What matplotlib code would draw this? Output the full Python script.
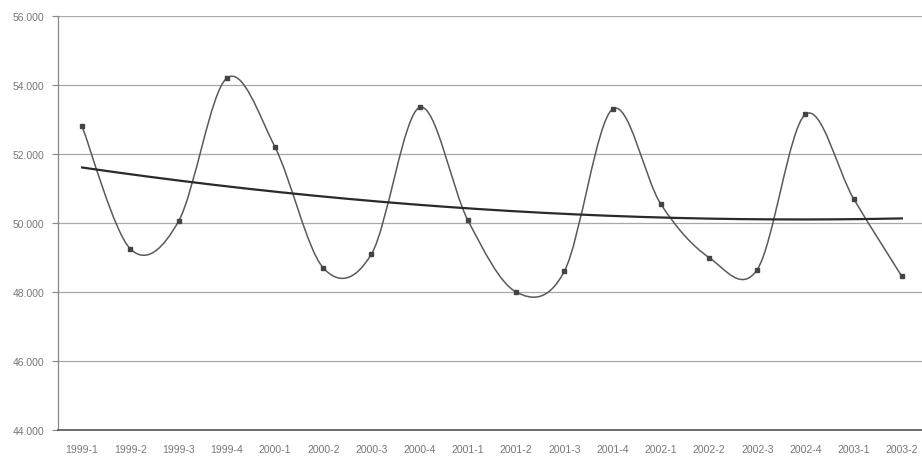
import numpy as np
import matplotlib
matplotlib.use("Agg")
import matplotlib.pyplot as plt
from matplotlib.path import Path
from matplotlib.patches import PathPatch
from matplotlib.ticker import FuncFormatter

categories = ["1999-1", "1999-2", "1999-3", "1999-4", "2000-1", "2000-2", "2000-3", "2000-4",
              "2001-1", "2001-2", "2001-3", "2001-4", "2002-1", "2002-2", "2002-3", "2002-4",
              "2003-1", "2003-2"]
values = [52800, 49250, 50050, 54200, 52200, 48700, 49100, 53350,
          50080, 48000, 48600, 53300, 50550, 49000, 48650, 53150,
          50700, 48450]
y_ticks = [44000, 46000, 48000, 50000, 52000, 54000, 56000]

plt.rcParams['font.family'] = ['Liberation Sans', 'DejaVu Sans']

fig = plt.figure(figsize=(9.22, 4.64), dpi=100)
fig.patch.set_facecolor('white')
ax = fig.add_axes([58/922, 1 - 431/464, (926 - 58)/922, (431 - 17)/464])

x = np.arange(len(values))
y = np.array(values, dtype=float)

# Excel-like smoothed line (Catmull-Rom as cubic Bezier)
verts = [(x[0], y[0])]
codes = [Path.MOVETO]
n = len(x)
for i in range(n - 1):
    p0 = np.array([x[max(i - 1, 0)], y[max(i - 1, 0)]])
    p1 = np.array([x[i], y[i]])
    p2 = np.array([x[i + 1], y[i + 1]])
    p3 = np.array([x[min(i + 2, n - 1)], y[min(i + 2, n - 1)]])
    c1 = p1 + (p2 - p0) / 6.0
    c2 = p2 - (p3 - p1) / 6.0
    verts += [tuple(c1), tuple(c2), tuple(p2)]
    codes += [Path.CURVE4, Path.CURVE4, Path.CURVE4]
ax.add_patch(PathPatch(Path(verts, codes), facecolor='none', edgecolor='#5a5a5a',
                       linewidth=1.1, zorder=3))
ax.plot(x, y, linestyle='none', marker='s', markersize=3.2, color='#444444', zorder=4)

# Polynomial trendline (order 2)
coef = np.polyfit(x, y, 2)
xt = np.linspace(x[0], x[-1], 200)
ax.plot(xt, np.polyval(coef, xt), color='#2a2a2a', linewidth=1.6, zorder=3)

ax.set_xlim(-0.5, len(values) - 0.5)
ax.set_ylim(44000, 56000)
ax.set_yticks(y_ticks)
ax.yaxis.set_major_formatter(FuncFormatter(lambda v, p: f"{int(v):,}".replace(",", ".")))
ax.set_xticks(x)
ax.set_xticklabels(categories)
ax.grid(axis='y', color='#a8a8a8', linewidth=0.9)
ax.set_axisbelow(True)
for s in ['top', 'right']:
    ax.spines[s].set_visible(False)
ax.spines['left'].set_color('#888888')
ax.spines['left'].set_linewidth(0.9)
ax.spines['bottom'].set_color('#555555')
ax.spines['bottom'].set_linewidth(1.2)
ax.tick_params(axis='y', labelsize=7.5, labelcolor='#777777', color='#888888', length=4, pad=6)
ax.tick_params(axis='x', labelsize=7.5, labelcolor='#777777', length=0, pad=10)

fig.savefig("out.png", dpi=100, facecolor='white')
